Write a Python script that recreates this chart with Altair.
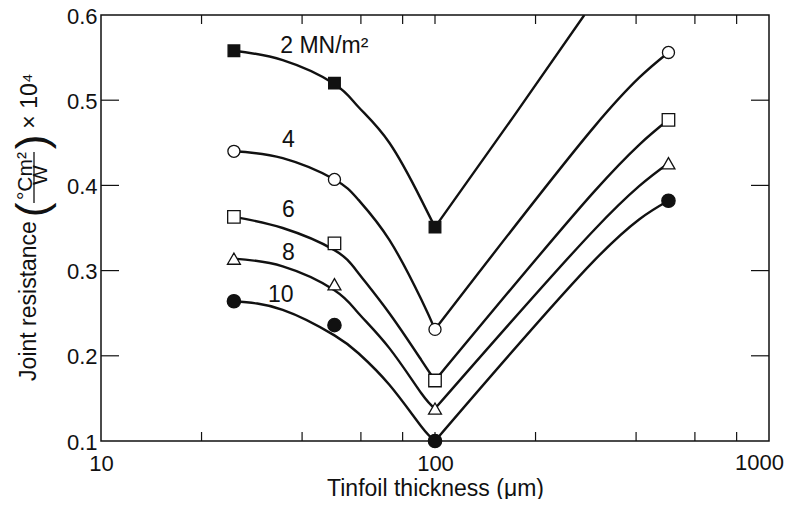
import altair as alt
import pandas as pd

# ---------------- data ----------------
series = ["2", "4", "6", "8", "10"]

# measured points (tinfoil thickness in micrometres, joint resistance x 1e4)
thickness = [25, 50, 100, 500]
r_2 = [0.558, 0.520, 0.351]
r_4 = [0.440, 0.407, 0.231, 0.556]
r_6 = [0.363, 0.332, 0.171, 0.477]
r_8 = [0.314, 0.284, 0.138, 0.426]
r_10 = [0.264, 0.236, 0.100, 0.382]

# fitted curves (left branch: thinner foils)
curve_left_x = [25, 35, 50, 59, 73, 91, 100]
c2_left = [0.558, 0.547, 0.519, 0.492, 0.450, 0.383, 0.351]
c4_left = [0.440, 0.432, 0.407, 0.383, 0.336, 0.266, 0.231]
c6_left = [0.363, 0.350, 0.324, 0.297, 0.250, 0.195, 0.171]
c8_left = [0.314, 0.305, 0.277, 0.250, 0.209, 0.156, 0.138]
c10_left = [0.264, 0.254, 0.224, 0.203, 0.166, 0.117, 0.100]

# right branch: thicker foils
curve_right_x_2 = [100, 172, 280]
c2_right = [0.351, 0.481, 0.600]
curve_right_x = [100, 300, 500]
c4_right = [0.231, 0.469, 0.556]
c6_right = [0.171, 0.393, 0.477]
c8_right = [0.138, 0.348, 0.426]
c10_right = [0.100, 0.312, 0.382]

# curve labels
label_text = ["2 MN/m²", "4", "6", "8", "10"]
label_x = [34.4, 34.8, 34.8, 34.8, 31.6]
label_y = [0.555, 0.445, 0.363, 0.312, 0.263]

# axes
x_labels = [10, 100]
x_last_label = [1000]
x_ticks = [20, 40, 60, 80, 100, 200, 400, 600, 800]
y_labels = [0.1, 0.2, 0.3, 0.4, 0.5, 0.6]
y_ticks = [0.2, 0.3, 0.4, 0.5]

# ---------------- tables ----------------
point_vals = {"2": r_2, "4": r_4, "6": r_6, "8": r_8, "10": r_10}
pts = []
for s in series:
    for xv, yv in zip(thickness, point_vals[s]):
        pts.append({"series": s, "x": xv, "y": yv})
points_df = pd.DataFrame(pts)

left_vals = {"2": c2_left, "4": c4_left, "6": c6_left, "8": c8_left, "10": c10_left}
right_vals = {"2": c2_right, "4": c4_right, "6": c6_right, "8": c8_right, "10": c10_right}
rows = []
for s in series:
    for xv, yv in zip(curve_left_x, left_vals[s]):
        rows.append({"key": s + "L", "x": xv, "y": yv})
    rx = curve_right_x_2 if s == "2" else curve_right_x
    for xv, yv in zip(rx, right_vals[s]):
        rows.append({"key": s + "R", "x": xv, "y": yv})
curves_df = pd.DataFrame(rows)

labels_df = pd.DataFrame({"x": label_x, "y": label_y, "text": label_text})
xt_df = pd.DataFrame({"x": x_ticks})
yt_df = pd.DataFrame({"y": y_ticks})
xlast_df = pd.DataFrame({"x": x_last_label})

# ---------------- chart ----------------
W, H = 668, 426
FONT = "Liberation Sans"
INK = "#111111"
XLAB_PAD = 12

xscale = alt.Scale(type="log", domain=[10, 1000], nice=False)
yscale = alt.Scale(domain=[0.1, 0.6], nice=False, zero=False)

x_axis = alt.Axis(values=x_labels, format="d", ticks=False, domain=False, grid=False,
                  labelFontSize=22, labelFont=FONT, labelColor=INK, labelPadding=XLAB_PAD,
                  labelFlush=False, labelOverlap=False,
                  titleFontSize=23, titleFont=FONT, titleFontWeight="normal",
                  titleColor=INK, titlePadding=3)
y_axis = alt.Axis(values=y_labels, format=".1f", ticks=False, domain=False, grid=False,
                  labelFontSize=22, labelFont=FONT, labelColor=INK, labelPadding=4,
                  labelOffset=1, labelFlush=False, labelOverlap=False)

X = alt.X("x:Q", scale=xscale, title="Tinfoil thickness (μm)", axis=x_axis)
Y = alt.Y("y:Q", scale=yscale, title=None, axis=y_axis)

lines = alt.Chart(curves_df).mark_line(
    interpolate="natural", color=INK, strokeWidth=2.4, clip=True
).encode(x=X, y=Y, detail="key:N")

markers = alt.Chart(points_df).mark_point(
    filled=True, stroke=INK, strokeWidth=1.3, opacity=1
).encode(
    x=X, y=Y,
    shape=alt.Shape("series:N", scale=alt.Scale(
        domain=series, range=["square", "circle", "square", "triangle-up", "circle"]), legend=None),
    fill=alt.Fill("series:N", scale=alt.Scale(
        domain=series, range=[INK, "white", "white", "white", INK]), legend=None),
    size=alt.Size("series:N", scale=alt.Scale(
        domain=series, range=[135, 177, 137, 240, 177]), legend=None),
)

texts = alt.Chart(labels_df).mark_text(
    align="left", baseline="alphabetic", font=FONT, fontSize=23, color=INK
).encode(x=X, y=Y, text="text:N")

# last x-axis label, kept inside the page like in the reference
xlast = alt.Chart(xlast_df).mark_text(
    align="right", baseline="top", dx=15, font=FONT, fontSize=22, color=INK
).encode(x=X, y=alt.value(H + XLAB_PAD), text=alt.Text("x:Q", format="d"))

tick_style = dict(color=INK, strokeWidth=1.2)
xt_bottom = alt.Chart(xt_df).mark_rule(**tick_style).encode(
    x=X, y=alt.value(H), y2=alt.value(H - 9))
xt_top = alt.Chart(xt_df).mark_rule(**tick_style).encode(
    x=X, y=alt.value(0), y2=alt.value(9))
yt_left = alt.Chart(yt_df).mark_rule(**tick_style).encode(
    y=Y, x=alt.value(0), x2=alt.value(18))
yt_right = alt.Chart(yt_df).mark_rule(**tick_style).encode(
    y=Y, x=alt.value(W), x2=alt.value(W - 18))

# composite y-axis title: Joint resistance (°Cm²/W) × 10⁴
one = alt.Data(values=[{}])


def vtext(txt, xp, yp, size):
    return alt.Chart(one).mark_text(
        angle=270, align="center", baseline="middle", font=FONT, fontSize=size, color=INK
    ).encode(x=alt.value(xp), y=alt.value(yp), text=alt.value(txt))


ytitle = [
    vtext("Joint resistance", -72, 286, 23),
    vtext("(", -67, 195, 44),
    vtext("°Cm²", -75, 161, 21),
    vtext("W", -60, 160, 21),
    vtext(")", -67, 127, 44),
    vtext("× 10⁴", -71, 86, 23),
    alt.Chart(one).mark_rule(color=INK, strokeWidth=1.3).encode(
        x=alt.value(-67), y=alt.value(137), y2=alt.value(188)),
]

chart = alt.layer(
    lines, xt_bottom, xt_top, yt_left, yt_right, markers, texts, xlast, *ytitle
).properties(
    width=W, height=H,
    autosize=alt.AutoSizeParams(type="none"),
    padding={"left": 93, "top": 7, "right": 17, "bottom": 58},
).configure_view(stroke=INK, strokeWidth=1.5)

chart.save("out.html", embed_options={"renderer": "svg", "actions": False})
